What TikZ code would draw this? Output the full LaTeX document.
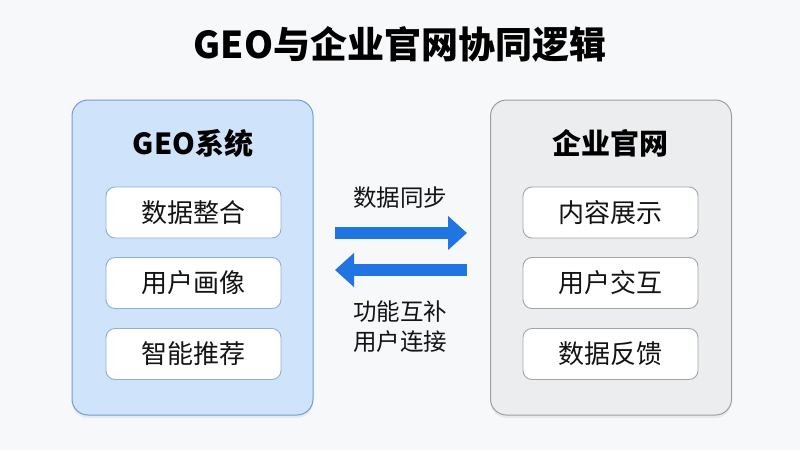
\documentclass[tikz,border=0pt]{standalone}
\usepackage{fontspec}
\setmainfont{Noto Sans CJK SC}
\usetikzlibrary{arrows.meta,shadows}
\definecolor{bgc}{HTML}{F7F8FA}
\definecolor{bluefill}{HTML}{CFE3FA}
\definecolor{blueline}{HTML}{6F9DD6}
\definecolor{grayfill}{HTML}{ECEDEF}
\definecolor{grayline}{HTML}{9C9EA2}
\definecolor{innerblue}{HTML}{8DAEDA}
\definecolor{innergray}{HTML}{A3A5A8}
\definecolor{arrowc}{HTML}{2175E2}
\tikzset{
  panel/.style={draw, line width=1pt, rounded corners=16pt, minimum width=241pt, minimum height=315pt,
    drop shadow={opacity=0.12, shadow xshift=0pt, shadow yshift=-3pt}},
  itembox/.style={draw, fill=white, line width=0.9pt, rounded corners=9pt, minimum width=175pt, minimum height=51pt,
    font=\fontsize{26}{30}\selectfont, text=black!92},
  ptitle/.style={font=\fontsize{29}{34}\selectfont\bfseries, text=black},
  alabel/.style={font=\fontsize{23.5}{28}\selectfont, text=black!92},
  bigarrow/.style={draw=arrowc, line width=12pt, -{Triangle[width=33pt,length=19pt]}}
}
\begin{document}
\begin{tikzpicture}[x=1pt,y=-1pt]
\fill[bgc] (0,0) rectangle (800,450);
\useasboundingbox (0,0) rectangle (800,450);
\node[font=\fontsize{37}{44}\selectfont\bfseries] (title) at (400,44) {GEO与企业官网协同逻辑};

\node[panel, fill=bluefill, draw=blueline] (geo) at (192.5,257.5) {};
\node[panel, fill=grayfill, draw=grayline] (web) at (611,257.5) {};

\node[ptitle] (geot) at (193,143) {GEO系统};
\node[ptitle] (webt) at (610,143) {企业官网};

\node[itembox, draw=innerblue] (g1) at (193.5,212.5) {数据整合};
\node[itembox, draw=innerblue] (g2) at (193.5,283) {用户画像};
\node[itembox, draw=innerblue] (g3) at (193.5,354) {智能推荐};

\node[itembox, draw=innergray] (w1) at (610.5,212.5) {内容展示};
\node[itembox, draw=innergray] (w2) at (610.5,283) {用户交互};
\node[itembox, draw=innergray] (w3) at (610.5,354) {数据反馈};

\coordinate (a1s) at (335,233);
\coordinate (a1e) at (467,233);
\coordinate (a2s) at (467,270);
\coordinate (a2e) at (335,270);
\draw[bigarrow] (a1s) -- (a1e);
\draw[bigarrow] (a2s) -- (a2e);

\node[alabel] (l1) at (400,198) {数据同步};
\node[alabel] (l2) at (400,312) {功能互补};
\node[alabel] (l3) at (400,342) {用户连接};
\end{tikzpicture}
\end{document}
